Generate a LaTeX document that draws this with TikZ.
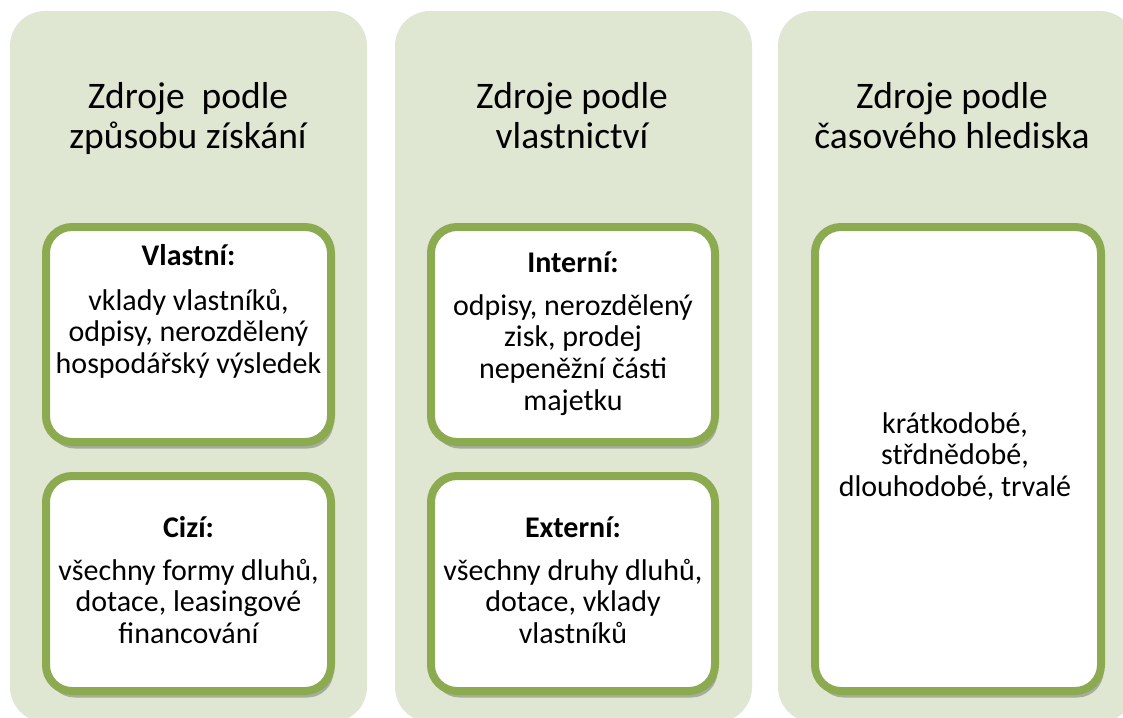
\documentclass[tikz,border=0pt]{standalone}
\usepackage{fontspec}
\setmainfont{Carlito}
\usetikzlibrary{shadows}
\definecolor{panelfill}{HTML}{DFE7D2}
\definecolor{boxline}{HTML}{8CAA50}
\begin{document}
\begin{tikzpicture}[x=1pt,y=-1pt,
  panel/.style={fill=panelfill, draw=none, rounded corners=35pt},
  card/.style={rectangle, draw=boxline, line width=8pt, fill=white, rounded corners=26pt,
    inner sep=0pt, minimum width=285pt, minimum height=215pt,
    drop shadow={shadow xshift=2.5pt, shadow yshift=-6.5pt, opacity=0.25, fill=black}},
  titletext/.style={font=\fontsize{37.5}{40}\selectfont, align=center, inner sep=0pt, anchor=north},
  headtext/.style={font=\bfseries\fontsize{30}{31.6}\selectfont, inner sep=0pt, anchor=base},
  bodytext/.style={font=\fontsize{30}{31.6}\selectfont, align=center, inner sep=0pt, anchor=north}]
\useasboundingbox (0,0) rectangle (1123,717);
\clip (0,0) rectangle (1123,717);
% panels
\path[panel] (10,11) rectangle (367,722);
\path[panel] (395,11) rectangle (752,722);
\path[panel] (778,11) rectangle (1135,722);
% titles
\node[titletext] (t1) at (188,80) {\strut Zdroje\ \ podle\\způsobu získání};
\node[titletext] (t2) at (572,80) {\strut Zdroje podle\\vlastnictví};
\node[titletext] (t3) at (952,80) {\strut Zdroje podle\\časového hlediska};
% cards
\node[card] (vl) at (188.5,334.5) {};
\node[card] (ci) at (188.5,583.5) {};
\node[card, minimum width=284pt] (in) at (573,334.5) {};
\node[card, minimum width=284pt] (ex) at (573,583.5) {};
\node[card, minimum width=286pt, minimum height=464pt] (ca) at (958,459) {};
% card texts
\node[headtext] (vlh) at (188.5,265) {Vlastní:};
\node[bodytext] (vlb) at (188.5,287.9) {\strut vklady vlastníků,\\odpisy, nerozdělený\\hospodářský výsledek};
\node[headtext] (cih) at (188.5,537) {Cizí:};
\node[bodytext] (cib) at (188.5,557.9) {\strut všechny formy dluhů,\\dotace, leasingové\\financování};
\node[headtext] (inh) at (573,272) {Interní:};
\node[bodytext] (inb) at (573,292.9) {\strut odpisy, nerozdělený\\zisk, prodej\\nepeněžní části\\majetku};
\node[headtext] (exh) at (573,537) {Externí:};
\node[bodytext] (exb) at (573,557.9) {\strut všechny druhy dluhů,\\dotace, vklady\\vlastníků};
\node[bodytext] (cab) at (955,410.9) {\strut krátkodobé,\\střdnědobé,\\dlouhodobé, trvalé};
\end{tikzpicture}
\end{document}
